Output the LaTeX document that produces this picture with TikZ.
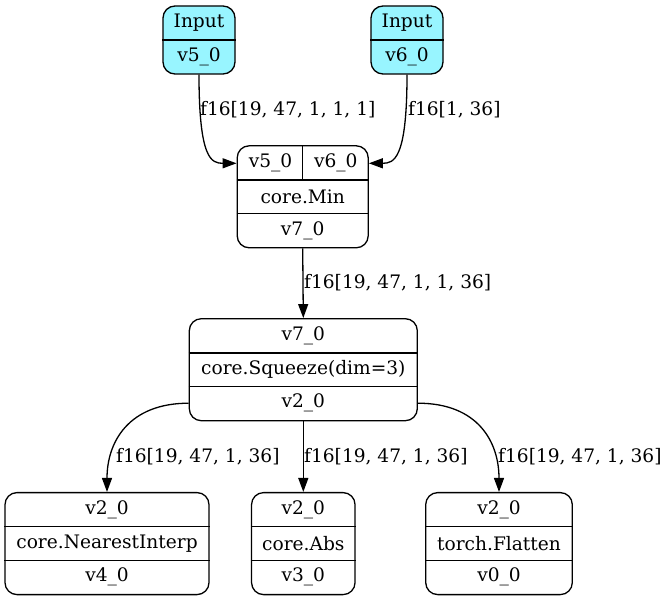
\documentclass[tikz,border=0pt]{standalone}
\usepackage{fontspec}
\setmainfont{DejaVu Serif}
\usetikzlibrary{arrows.meta}
\definecolor{inputcyan}{HTML}{98F5FF}
\newcommand{\gvsize}{\fontsize{18.6}{22}\selectfont}
\tikzset{
	rec/.style={draw, line width=1.3pt, rounded corners=12pt, inner sep=0pt},
	inrec/.style={rec, fill=inputcyan, minimum width=72pt, minimum height=68pt},
	oprec/.style={rec, minimum height=102pt},
	sepline/.style={line width=1.3pt},
	txt/.style={inner sep=0pt, font=\gvsize},
	lbl/.style={txt, anchor=west},
	flow/.style={line width=1.3pt, -{Triangle[length=14pt,width=10pt]}}
}
\begin{document}
\begin{tikzpicture}[x=1pt, y=-1pt]
	\useasboundingbox (0,0) rectangle (668,601);
	% inputs
		\foreach \i/\x in {5/199, 6/407}{
			\node[inrec] (in\i) at (\x,40) {};
			\draw[sepline] (in\i.west) -- (in\i.east);
			\node[txt] (in\i-t) at ([yshift=17pt]in\i.center) {Input};
			\node[txt] (in\i-v) at ([yshift=-17pt]in\i.center) {v\i\_0};
			}
	% min
		\node[oprec, minimum width=131pt] (min) at (302.7,196.8) {};
		\draw[sepline] ([yshift=16.8pt]min.west) -- ([yshift=16.8pt]min.east)
			([yshift=-16.8pt]min.west) -- ([yshift=-16.8pt]min.east)
			(min.north) -- ([yshift=16.8pt]min.center);
		\node[txt] (min-a)   at (270.5,163.2) {v5\_0};
		\node[txt] (min-b)   at (335.8,163.2) {v6\_0};
		\node[txt] (min-op)  at (min.center) {core.Min};
		\node[txt] (min-out) at ([yshift=-33.5pt]min.center) {v7\_0};
	% squeeze
		\node[oprec, minimum width=228pt] (sq) at (303.3,369.7) {};
		\draw[sepline] ([yshift=16.8pt]sq.west) -- ([yshift=16.8pt]sq.east)
			([yshift=-16.8pt]sq.west) -- ([yshift=-16.8pt]sq.east);
		\node[txt] (sq-in)  at ([yshift=33.5pt]sq.center) {v7\_0};
		\node[txt] (sq-op)  at (sq.center) {core.Squeeze(dim=3)};
		\node[txt] (sq-out) at ([yshift=-33.5pt]sq.center) {v2\_0};
	% consumers
		\foreach \name/\x/\w/\op/\out in {interp/107/204/core.NearestInterp/v4,
				abs/303.3/103.5/core.Abs/v3, flat/499/146.6/torch.Flatten/v0}{
			\node[oprec, minimum width=\w pt] (\name) at (\x,543.6) {};
			\draw[sepline] ([yshift=16.8pt]\name.west) -- ([yshift=16.8pt]\name.east)
				([yshift=-16.8pt]\name.west) -- ([yshift=-16.8pt]\name.east);
			\node[txt] (\name-in)  at ([yshift=33.5pt]\name.center) {v2\_0};
			\node[txt] (\name-op)  at (\name.center) {\op};
			\node[txt] (\name-out) at ([yshift=-33.5pt]\name.center) {\out\_0};
			}
	% edges
		\draw[flow] (in5.south) .. controls +(0,85) and +(-25,0) .. ([yshift=33.5pt]min.west);
		\draw[flow] (in6.south) .. controls +(0,85) and +(25,0) .. ([yshift=33.5pt]min.east);
		\draw[flow] (min.south) -- (sq.north);
		\draw[flow] ([yshift=-33.5pt]sq.west) .. controls +(-60,0) and +(0,-50) .. (interp.north);
		\draw[flow] (sq.south) -- (abs.north);
		\draw[flow] ([yshift=-33.5pt]sq.east) .. controls +(60,0) and +(0,-50) .. (flat.north);
	% edge labels
		\node[lbl] (l-in5)    at (200,110) {f16[19, 47, 1, 1, 1]};
		\node[lbl] (l-in6)    at (408,110) {f16[1, 36]};
		\node[lbl] (l-min)    at (304,283) {f16[19, 47, 1, 1, 36]};
		\node[lbl] (l-interp) at (116,457) {f16[19, 47, 1, 36]};
		\node[lbl] (l-abs)    at (304,457) {f16[19, 47, 1, 36]};
		\node[lbl] (l-flat)   at (498,457) {f16[19, 47, 1, 36]};
\end{tikzpicture}
\end{document}
